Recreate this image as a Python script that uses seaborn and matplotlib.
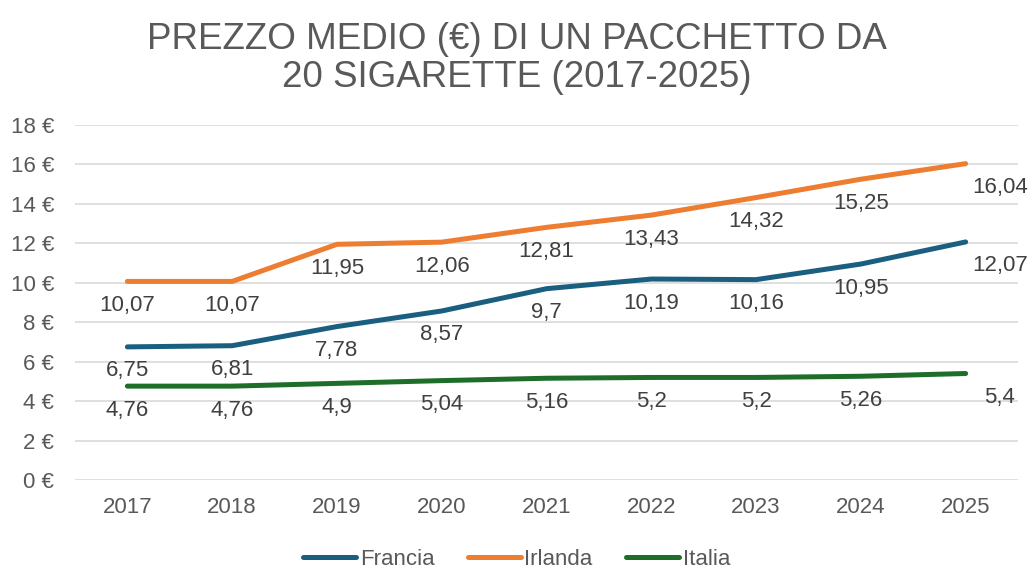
import matplotlib
matplotlib.use("Agg")
import matplotlib.pyplot as plt
import seaborn as sns
import pandas as pd
from matplotlib.lines import Line2D

years = ["2017", "2018", "2019", "2020", "2021", "2022", "2023", "2024", "2025"]
francia = [6.75, 6.81, 7.78, 8.57, 9.7, 10.19, 10.16, 10.95, 12.07]
irlanda = [10.07, 10.07, 11.95, 12.06, 12.81, 13.43, 14.32, 15.25, 16.04]
italia = [4.76, 4.76, 4.9, 5.04, 5.16, 5.2, 5.2, 5.26, 5.4]
series_names = ["Francia", "Irlanda", "Italia"]
colors = ["#1A5F80", "#ED7D31", "#1E6E2A"]
yticks = [0, 2, 4, 6, 8, 10, 12, 14, 16, 18]

sns.set_style("white")
plt.rcParams["font.family"] = ["Liberation Sans", "DejaVu Sans"]

df = pd.DataFrame({"Anno": years * 3,
                   "Prezzo": francia + irlanda + italia,
                   "Paese": sum([[n] * len(years) for n in series_names], [])})

fig = plt.figure(figsize=(10.33, 5.72), dpi=100)
ax = fig.add_axes([0.0726, 0.1608, 0.9129, 0.6207])

sns.lineplot(data=df, x="Anno", y="Prezzo", hue="Paese", palette=colors,
             linewidth=3.6, ax=ax, legend=False, solid_capstyle="round", sort=False)

ax.set_xlim(-0.5, len(years) - 0.5)
ax.set_ylim(0, 18)
ax.set_yticks(yticks)
ax.set_yticklabels([f"{v} €" for v in yticks])
ax.yaxis.grid(True, color="#D9D9D9", linewidth=1.2)
ax.xaxis.grid(False)
for s in ax.spines.values():
    s.set_visible(False)
ax.tick_params(axis="both", length=0, labelsize=16, labelcolor="#595959")
ax.tick_params(axis="x", pad=12)
ax.tick_params(axis="y", pad=15)
ax.set_xlabel("")
ax.set_ylabel("")

def fmt(v):
    s = f"{v:.2f}".rstrip("0").rstrip(".")
    return s.replace(".", ",")

for vals in [francia, irlanda, italia]:
    for i, v in enumerate(vals):
        dx = 34 if i == len(vals) - 1 else 0
        ax.annotate(fmt(v), (i, v), xytext=(dx, -24), textcoords="offset pixels",
                    ha="center", va="center", fontsize=16, color="#404040")

fig.text(0.5, 0.898, "PREZZO MEDIO (€) DI UN PACCHETTO DA\n20 SIGARETTE (2017-2025)",
         ha="center", va="center", fontsize=26.5, color="#595959",
         linespacing=1.12)

handles = [Line2D([0], [0], color=c, linewidth=3.6, solid_capstyle="round") for c in colors]
leg = fig.legend(handles, series_names, loc="center", bbox_to_anchor=(0.5, 0.022), ncol=3,
                 frameon=False, fontsize=16, handlelength=2.4, handletextpad=0.15,
                 columnspacing=1.5, labelcolor="#595959")

fig.savefig("out.png", dpi=100)
